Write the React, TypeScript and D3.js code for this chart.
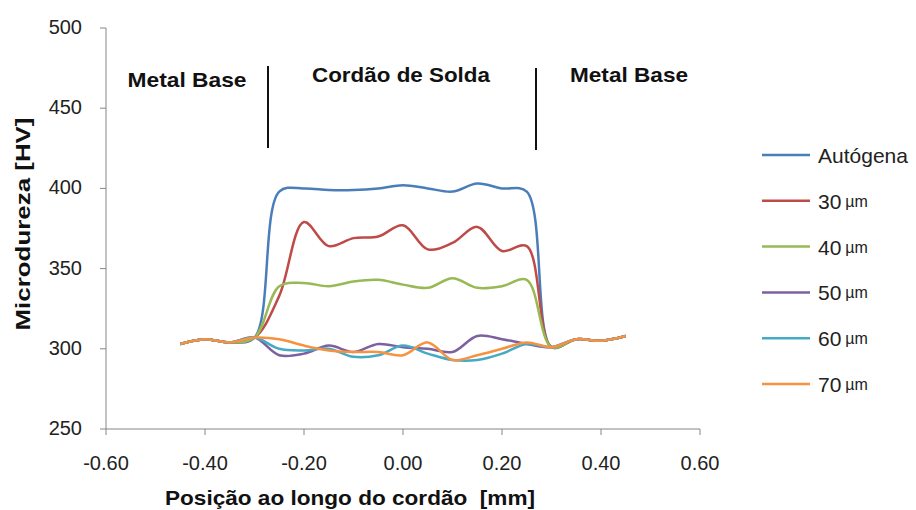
import * as d3 from "d3";

// positions along the weld (mm)
const positions = [
  -0.45, -0.4, -0.35, -0.3, -0.25, -0.2, -0.15, -0.1, -0.05, 0.0, 0.05, 0.1,
  0.15, 0.2, 0.25, 0.3, 0.35, 0.4, 0.45,
];

const autogena = [303, 306, 304, 307, 398, 400, 399, 399, 400, 402, 400, 398, 403, 400, 398, 301, 306, 305, 308];
const um30 = [303, 306, 304, 307, 333, 379, 364, 369, 370, 377, 362, 366, 376, 361, 364, 301, 306, 305, 308];
const um40 = [303, 306, 304, 307, 339, 341, 339, 342, 343, 340, 338, 344, 338, 339, 343, 301, 306, 305, 308];
const um50 = [303, 306, 304, 307, 296, 297, 302, 298, 303, 301, 300, 298, 308, 306, 303, 301, 306, 305, 308];
const um60 = [303, 306, 304, 307, 300, 299, 300, 295, 296, 302, 297, 293, 293, 297, 303, 301, 306, 305, 308];
const um70 = [303, 306, 304, 307, 306, 302, 299, 298, 298, 296, 304, 293, 296, 300, 304, 301, 306, 305, 308];

const seriesNames = ["Autógena", "30", "40", "50", "60", "70"];
const seriesValues = [autogena, um30, um40, um50, um60, um70];
const seriesColors = ["#4a7ebb", "#be4b48", "#98b954", "#7d60a0", "#46aac5", "#f69240"];

const xTicks = [-0.6, -0.4, -0.2, 0, 0.2, 0.4, 0.6];
const yTicks = [250, 300, 350, 400, 450, 500];

const font = "'Liberation Sans', Arial, sans-serif";
const axisColor = "#868686";

function App() {
  const xScale = d3.scaleLinear().domain([-0.6, 0.6]).range([106, 700]);
  const yScale = d3.scaleLinear().domain([250, 500]).range([429, 28]);

  const line = d3
    .line<number>()
    .x((_, i) => xScale(positions[i]))
    .y((d) => yScale(d))
    .curve(d3.curveCatmullRom.alpha(0.5));

  const [x0, x1] = xScale.range();
  const [yBottom, yTop] = yScale.range();

  return (
    <svg
      width={916}
      height={510}
      style={{ position: "absolute", left: 0, top: 0, background: "#fff" }}
      fontFamily={font}
    >
      {/* y axis */}
      <line x1={x0} x2={x0} y1={yTop} y2={yBottom} stroke={axisColor} />
      {yTicks.map((t) => (
        <g key={t} transform={`translate(${x0},${yScale(t)})`}>
          <line x1={-6} x2={0} stroke={axisColor} />
          <text x={-24} y={6} textAnchor="end" fontSize={20} fill="#222">
            {t}
          </text>
        </g>
      ))}
      {/* x axis */}
      <line x1={x0} x2={x1} y1={yBottom} y2={yBottom} stroke={axisColor} />
      {xTicks.map((t) => (
        <g key={t} transform={`translate(${xScale(t)},${yBottom})`}>
          <line y1={0} y2={6} stroke={axisColor} />
          <text y={41} textAnchor="middle" fontSize={20} fill="#222">
            {t.toFixed(2)}
          </text>
        </g>
      ))}

      {/* axis titles */}
      <text
        x={350}
        y={505}
        textAnchor="middle"
        fontSize={21}
        fontWeight="bold"
        fill="#111"
        textLength={370}
        lengthAdjust="spacingAndGlyphs"
      >
        {"Posição ao longo do cordão\u00a0 [mm]"}
      </text>
      <text
        transform="translate(30,224) rotate(-90)"
        textAnchor="middle"
        fontSize={21}
        fontWeight="bold"
        fill="#111"
        textLength={213}
        lengthAdjust="spacingAndGlyphs"
      >
        Microdureza [HV]
      </text>

      {/* region annotations */}
      <text x={187} y={87} textAnchor="middle" fontSize={21} fontWeight="bold" fill="#111" textLength={119} lengthAdjust="spacingAndGlyphs">
        Metal Base
      </text>
      <line x1={268} x2={268} y1={66} y2={148} stroke="#111" strokeWidth={2} />
      <text x={401} y={82} textAnchor="middle" fontSize={21} fontWeight="bold" fill="#111" textLength={178} lengthAdjust="spacingAndGlyphs">
        Cordão de Solda
      </text>
      <line x1={536} x2={536} y1={68} y2={150} stroke="#111" strokeWidth={2} />
      <text x={629} y={82} textAnchor="middle" fontSize={21} fontWeight="bold" fill="#111" textLength={118} lengthAdjust="spacingAndGlyphs">
        Metal Base
      </text>

      {/* series */}
      {seriesValues.map((vals, i) => (
        <path
          key={seriesNames[i]}
          d={line(vals) ?? ""}
          fill="none"
          stroke={seriesColors[i]}
          strokeWidth={2.5}
          strokeLinejoin="round"
        />
      ))}

      {/* legend */}
      {seriesNames.map((name, i) => {
        const y = 155 + i * 45.8;
        return (
          <g key={name} transform={`translate(762,${y})`}>
            <line x1={0} x2={48} stroke={seriesColors[i]} strokeWidth={2.5} />
            <text x={56} y={8} fontSize={21} fill="#222">
              {i === 0 ? (
                name
              ) : (
                <>
                  {name}
                  <tspan dx={4} dy={-2} fontSize={16}>
                    µm
                  </tspan>
                </>
              )}
            </text>
          </g>
        );
      })}
    </svg>
  );
}

export default App;
